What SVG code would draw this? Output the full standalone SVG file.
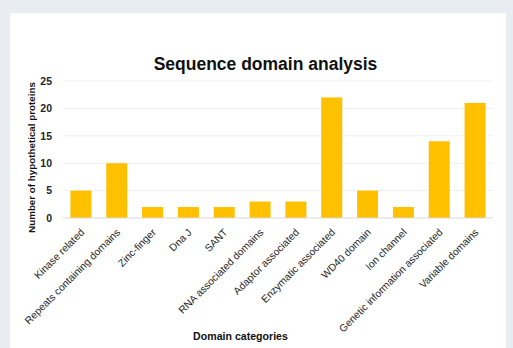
<svg xmlns="http://www.w3.org/2000/svg" width="513" height="348" viewBox="0 0 513 348">
<style>
.bar{fill:#FFC000}
.grid{stroke:#EFEFEF;stroke-width:1}
.axis{stroke:#D9D9D9;stroke-width:1}
.tick{font-family:"Liberation Sans",Arial,sans-serif;font-size:10.5px;font-weight:bold;fill:#262626;text-anchor:end}
.cat{font-family:"Liberation Sans",Arial,sans-serif;font-size:10.3px;fill:#262626;text-anchor:end}
.ttl{font-family:"Liberation Sans",Arial,sans-serif;font-weight:bold;fill:#111}
</style>
<rect x="0" y="0" width="513" height="348" fill="#E9ECF0"/>
<rect x="10" y="13" width="496" height="335" fill="#FFFFFF"/>
<text class="ttl" x="265.5" y="70" font-size="17.5" text-anchor="middle">Sequence domain analysis</text>
<g id="gridlines">
<line class="grid" x1="63" y1="81" x2="493" y2="81"/>
<line class="grid" x1="63" y1="108.4" x2="493" y2="108.4"/>
<line class="grid" x1="63" y1="135.8" x2="493" y2="135.8"/>
<line class="grid" x1="63" y1="163.2" x2="493" y2="163.2"/>
<line class="grid" x1="63" y1="190.6" x2="493" y2="190.6"/>
</g>
<g id="yaxis">
<text class="tick" x="52" y="84.8">25</text>
<text class="tick" x="52" y="112.2">20</text>
<text class="tick" x="52" y="139.6">15</text>
<text class="tick" x="52" y="167">10</text>
<text class="tick" x="52" y="194.4">5</text>
<text class="tick" x="52" y="221.8">0</text>
<text class="ttl" font-size="9.8" text-anchor="middle" transform="translate(34.5,157.5) rotate(-90)">Number of hypothetical proteins</text>
</g>
<g id="bars">
<rect id="b1" class="bar" x="70.4" y="190.6" width="21" height="27.4"/>
<rect id="b2" class="bar" x="106.25" y="163.2" width="21" height="54.8"/>
<rect id="b3" class="bar" x="142.08" y="207.04" width="21" height="10.96"/>
<rect id="b4" class="bar" x="177.92" y="207.04" width="21" height="10.96"/>
<rect id="b5" class="bar" x="213.75" y="207.04" width="21" height="10.96"/>
<rect id="b6" class="bar" x="249.58" y="201.56" width="21" height="16.44"/>
<rect id="b7" class="bar" x="285.42" y="201.56" width="21" height="16.44"/>
<rect id="b8" class="bar" x="321.25" y="97.44" width="21" height="120.56"/>
<rect id="b9" class="bar" x="357.08" y="190.6" width="21" height="27.4"/>
<rect id="b10" class="bar" x="392.92" y="207.04" width="21" height="10.96"/>
<rect id="b11" class="bar" x="428.75" y="141.28" width="21" height="76.72"/>
<rect id="b12" class="bar" x="464.58" y="102.92" width="21" height="115.08"/>
</g>
<line class="axis" x1="63" y1="218" x2="493" y2="218"/>
<g id="xlabels">
<text class="cat" transform="translate(85,233) rotate(-45)">Kinase related</text>
<text class="cat" transform="translate(120.8,233) rotate(-45)">Repeats containing domains</text>
<text class="cat" transform="translate(156.6,233) rotate(-45)">Zinc-finger</text>
<text class="cat" transform="translate(192.4,233) rotate(-45)">Dna J</text>
<text class="cat" transform="translate(228.3,233) rotate(-45)">SANT</text>
<text class="cat" transform="translate(264.1,233) rotate(-45)">RNA associated domains</text>
<text class="cat" transform="translate(299.9,233) rotate(-45)">Adaptor associated</text>
<text class="cat" transform="translate(335.8,233) rotate(-45)">Enzymatic associated</text>
<text class="cat" transform="translate(371.6,233) rotate(-45)">WD40 domain</text>
<text class="cat" transform="translate(407.4,233) rotate(-45)">Ion channel</text>
<text class="cat" transform="translate(443.3,233) rotate(-45)">Genetic information associated</text>
<text class="cat" transform="translate(479.1,233) rotate(-45)">Variable domains</text>
</g>
<text class="ttl" x="240.5" y="340" font-size="10.6" text-anchor="middle">Domain categories</text>
</svg>
